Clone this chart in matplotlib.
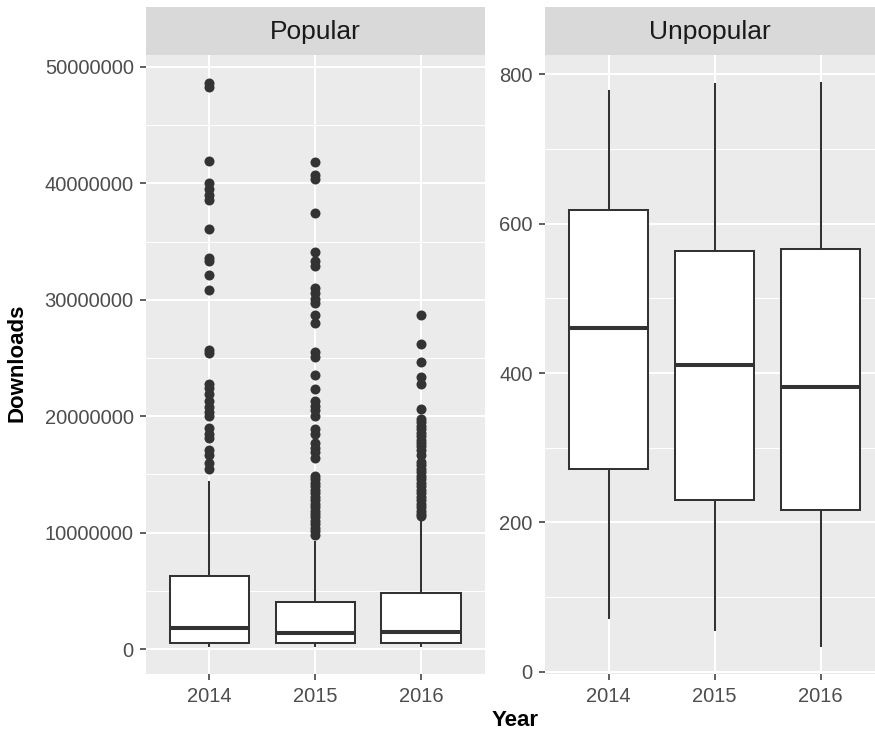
import matplotlib
matplotlib.use("Agg")
import matplotlib.pyplot as plt
from matplotlib.ticker import StrMethodFormatter, MultipleLocator

plt.rcParams['font.family'] = ['Liberation Sans', 'DejaVu Sans']

# --- data ---
years = ['2014', '2015', '2016']
panels = ['Popular', 'Unpopular']

# Popular: box stats in millions of downloads
pop_whislo = [0.30, 0.30, 0.30]
pop_q1 = [0.49, 0.49, 0.49]
pop_med = [1.83, 1.35, 1.49]
pop_q3 = [6.27, 4.00, 4.78]
pop_whishi = [14.37, 9.22, 11.08]

pop_out_2014 = [48.6, 48.3, 41.9, 40.0, 39.5, 39.0, 38.6, 36.1, 33.6, 33.3,
                32.1, 30.8, 25.7, 25.4, 22.8, 22.4, 21.9, 21.3, 20.8, 20.4,
                20.0, 19.0, 18.5, 18.1, 17.1, 16.7, 16.0, 15.5]
pop_out_2015 = [41.8, 40.7, 40.4, 37.5, 34.1, 33.3, 32.9, 31.0, 30.6, 30.1,
                29.7, 28.7, 28.0, 25.5, 25.1, 23.5, 22.3, 21.3, 20.9, 20.5,
                20.0, 18.9, 18.5, 17.7, 17.3, 16.9, 16.4, 14.9, 14.6, 14.3,
                14.0, 13.7, 13.4, 13.1, 12.8, 12.5, 12.2, 11.9, 11.6, 11.3,
                11.0, 10.7, 10.4, 10.1, 9.8]
pop_out_2016 = [28.7, 26.2, 24.7, 23.4, 22.8, 20.6, 19.8, 19.5, 19.2, 18.9,
                18.6, 18.3, 18.0, 17.7, 17.4, 17.1, 16.7, 16.1, 15.8, 15.5,
                15.2, 14.9, 14.6, 14.3, 14.0, 13.7, 13.4, 13.1, 12.8, 12.5,
                12.2, 11.9, 11.6, 11.4]

# Unpopular: box stats in downloads
unp_whislo = [71.5, 56, 34]
unp_q1 = [271, 230, 216]
unp_med = [461, 411, 382]
unp_q3 = [618.5, 563, 566]
unp_whishi = [778, 787, 789]

M = 1e6
pop_outliers = [pop_out_2014, pop_out_2015, pop_out_2016]

pop_stats = []
for i in range(3):
    pop_stats.append(dict(whislo=pop_whislo[i] * M, q1=pop_q1[i] * M, med=pop_med[i] * M,
                          q3=pop_q3[i] * M, whishi=pop_whishi[i] * M,
                          fliers=[v * M for v in pop_outliers[i]]))
unp_stats = []
for i in range(3):
    unp_stats.append(dict(whislo=unp_whislo[i], q1=unp_q1[i], med=unp_med[i],
                          q3=unp_q3[i], whishi=unp_whishi[i], fliers=[]))

# --- style ---
W, H = 875, 735
fig = plt.figure(figsize=(8.75, 7.35), dpi=100)

ink = '#333333'
panel_bg = '#EBEBEB'
strip_bg = '#D9D9D9'


def fx(px):
    return px / W


def fy(py):
    return 1 - py / H


top, bottom = 55, 674.3
strip_top = 7
boxes = [(146, 484.5), (545, 875)]


def style_axes(ax):
    ax.set_facecolor(panel_bg)
    for s in ax.spines.values():
        s.set_visible(False)
    ax.grid(which='major', color='white', linewidth=1.5)
    ax.grid(which='minor', axis='y', color='white', linewidth=0.75)
    ax.set_axisbelow(True)
    ax.tick_params(which='major', length=4.3, width=1.1, color=ink,
                   labelcolor='#4D4D4D', labelsize=14.5, pad=4.5)
    ax.tick_params(which='minor', length=0)


def draw_box(ax, stats):
    ax.bxp(stats, positions=[1, 2, 3], widths=0.75, patch_artist=True,
           showcaps=False,
           boxprops=dict(facecolor='white', edgecolor=ink, linewidth=1.45),
           medianprops=dict(color=ink, linewidth=2.9, solid_capstyle='butt'),
           whiskerprops=dict(color=ink, linewidth=1.45),
           flierprops=dict(marker='o', markersize=7.2, markerfacecolor=ink,
                           markeredgewidth=0, linestyle='none'))


axes = []
for (x0, x1), name in zip(boxes, panels):
    ax = fig.add_axes([fx(x0), fy(bottom), fx(x1 - x0), (bottom - top) / H])
    style_axes(ax)
    sax = fig.add_axes([fx(x0), fy(top), fx(x1 - x0), (top - strip_top) / H])
    sax.set_facecolor(strip_bg)
    sax.set_xticks([])
    sax.set_yticks([])
    for s in sax.spines.values():
        s.set_visible(False)
    sax.text(0.5, 0.47, name, ha='center', va='center', fontsize=19,
             color='#1A1A1A', transform=sax.transAxes)
    axes.append(ax)

ax1, ax2 = axes

draw_box(ax1, pop_stats)
ax1.set_xlim(0.4, 3.6)
ax1.set_ylim(-2.17e6, 51.03e6)
ax1.yaxis.set_major_locator(MultipleLocator(10e6))
ax1.yaxis.set_minor_locator(MultipleLocator(5e6))
ax1.yaxis.set_major_formatter(StrMethodFormatter('{x:.0f}'))
ax1.set_xticks([1, 2, 3])
ax1.set_xticklabels(years)

draw_box(ax2, unp_stats)
ax2.set_xlim(0.4, 3.513)
ax2.set_ylim(-3.5, 826.1)
ax2.yaxis.set_major_locator(MultipleLocator(200))
ax2.yaxis.set_minor_locator(MultipleLocator(100))
ax2.set_xticks([1, 2, 3])
ax2.set_xticklabels(years)

fig.text(fx(515), fy(720), 'Year', ha='center', va='center', fontsize=16,
         fontweight='bold', color='black')
fig.text(fx(17), fy(362.5), 'Downloads', ha='center', va='center', fontsize=16,
         fontweight='bold', color='black', rotation=90)

fig.savefig('out.png', dpi=100)
